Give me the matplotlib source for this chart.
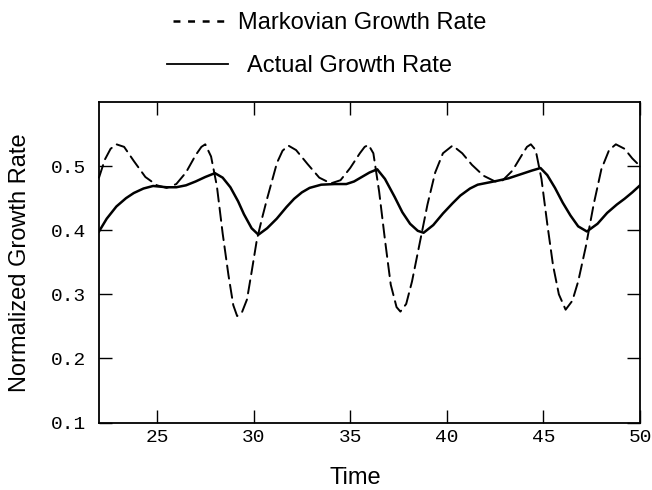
import matplotlib
matplotlib.use("Agg")
import matplotlib.pyplot as plt
from matplotlib.lines import Line2D

# Markovian growth rate (dashed)
markov_t = [22.0, 22.3, 22.6, 22.9, 23.3, 23.8, 24.4, 25.0, 25.5, 26.0, 26.5, 27.0, 27.3, 27.5,
            27.8, 28.1, 28.4, 28.7, 28.95, 29.15, 29.4, 29.66, 29.9, 30.17, 30.45, 30.69,
            31.0, 31.21, 31.5, 31.8, 32.2, 32.8, 33.4, 34.0, 34.5, 35.0, 35.5, 35.75, 35.95,
            36.2, 36.5, 36.8, 37.1, 37.4, 37.6, 37.9, 38.2, 38.6, 39.0, 39.4, 39.8, 40.3,
            40.8, 41.3, 41.9, 42.5, 42.9, 43.4, 43.9, 44.15, 44.35, 44.6, 44.9, 45.2, 45.5, 45.8,
            46.15, 46.5, 46.8, 47.2, 47.6, 48.0, 48.4, 48.75, 49.2, 49.6, 50.0]
markov_rate = [0.482, 0.510, 0.527, 0.534, 0.530, 0.508, 0.483, 0.470, 0.466, 0.472, 0.490, 0.517, 0.530, 0.534,
               0.515, 0.469, 0.395, 0.330, 0.283, 0.266, 0.272, 0.292, 0.335, 0.385, 0.420, 0.448,
               0.482, 0.505, 0.524, 0.532, 0.525, 0.503, 0.482, 0.473, 0.478, 0.497, 0.520, 0.530, 0.533,
               0.520, 0.460, 0.385, 0.315, 0.280, 0.273, 0.285, 0.320, 0.380, 0.440, 0.490, 0.520, 0.532,
               0.520, 0.502, 0.485, 0.476, 0.478, 0.493, 0.518, 0.530, 0.534, 0.525, 0.480, 0.410, 0.345, 0.300,
               0.276, 0.290, 0.320, 0.375, 0.440, 0.495, 0.525, 0.534, 0.527, 0.512, 0.500]

# Actual growth rate (solid)
actual_t = [22.0, 22.4, 22.9, 23.4, 23.8, 24.3, 24.8, 25.5, 26.0, 26.5, 27.0, 27.5, 28.0,
            28.4, 28.8, 29.2, 29.5, 29.9, 30.25, 30.7, 31.2, 31.7, 32.1, 32.5, 32.9, 33.5,
            34.2, 34.8, 35.2, 35.6, 36.0, 36.4, 36.8, 37.3, 37.7, 38.1, 38.5, 38.8, 39.3,
            39.8, 40.3, 40.7, 41.2, 41.6, 42.1, 42.6, 43.2, 43.8, 44.4, 44.85, 45.2, 45.6,
            46.0, 46.4, 46.8, 47.25, 47.8, 48.3, 48.8, 49.2, 49.6, 50.0]
actual_rate = [0.398, 0.418, 0.437, 0.450, 0.458, 0.465, 0.469, 0.467, 0.467, 0.470, 0.476, 0.483, 0.489,
               0.482, 0.467, 0.445, 0.425, 0.403, 0.393, 0.403, 0.418, 0.436, 0.449, 0.459, 0.466, 0.471,
               0.472, 0.472, 0.476, 0.483, 0.490, 0.495, 0.480, 0.452, 0.428, 0.410, 0.399, 0.396, 0.408,
               0.426, 0.442, 0.454, 0.465, 0.471, 0.474, 0.477, 0.481, 0.487, 0.493, 0.497, 0.486, 0.466,
               0.443, 0.423, 0.406, 0.398, 0.410, 0.427, 0.440, 0.449, 0.459, 0.470]

x_ticks = [25, 30, 35, 40, 45, 50]
y_ticks = [0.1, 0.2, 0.3, 0.4, 0.5]

W, H = 652, 490
plt.rcParams["font.family"] = "Liberation Sans"
plt.rcParams["lines.scale_dashes"] = False

fig = plt.figure(figsize=(W / 100, H / 100), dpi=100)
ax = fig.add_axes([99 / W, 1 - 422.5 / H, (640 - 99) / W, (422.5 - 102) / H])

ax.plot(markov_t, markov_rate, color="black", lw=1.4, dashes=(9.5, 4.5), clip_on=False,
        solid_joinstyle="round", dash_capstyle="round")
ax.plot(actual_t, actual_rate, color="black", lw=1.8, solid_joinstyle="round")

ax.set_xlim(22, 50)
ax.set_ylim(0.1, 0.6)
ax.set_xticks(x_ticks)
ax.set_yticks(y_ticks)
ax.set_xticklabels([str(v) for v in x_ticks])
ax.set_yticklabels([f"{v:.1f}" for v in y_ticks])
ax.tick_params(direction="in", length=9.5, width=1.0, top=True, right=True)
ax.tick_params(axis="x", pad=5)
ax.tick_params(axis="y", pad=9)
for lab in ax.get_xticklabels() + ax.get_yticklabels():
    lab.set_family("Liberation Mono")
    lab.set_fontsize(14)
for sp in ax.spines.values():
    sp.set_linewidth(1.3)

ax.set_xlabel("Time", fontsize=17)
ax.xaxis.set_label_coords((355 - 99) / (640 - 99), -(478 - 422.5) / (422.5 - 102), transform=ax.transAxes)
ax.set_ylabel("Normalized Growth Rate", fontsize=17)
ax.yaxis.set_label_coords(-(99 - 20) / (640 - 99), 0.5, transform=ax.transAxes)
ax.xaxis.label.set_va("center")
ax.yaxis.label.set_va("center")

h1 = Line2D([], [], color="black", lw=1.8, dashes=(5, 5.5))
h2 = Line2D([], [], color="black", lw=1.3)
leg1 = fig.legend([h1], ["Markovian Growth Rate"], loc="center left",
                  bbox_to_anchor=(173 / W, 1 - 23 / H), frameon=False, fontsize=17,
                  borderpad=0, borderaxespad=0, handlelength=51 / 23.5, handletextpad=14 / 23.5)
leg2 = fig.legend([h2], ["Actual Growth Rate"], loc="center left",
                  bbox_to_anchor=(167 / W, 1 - 66 / H), frameon=False, fontsize=17,
                  borderpad=0, borderaxespad=0, handlelength=61 / 23.5, handletextpad=19 / 23.5)

fig.savefig("out.png", dpi=100)
